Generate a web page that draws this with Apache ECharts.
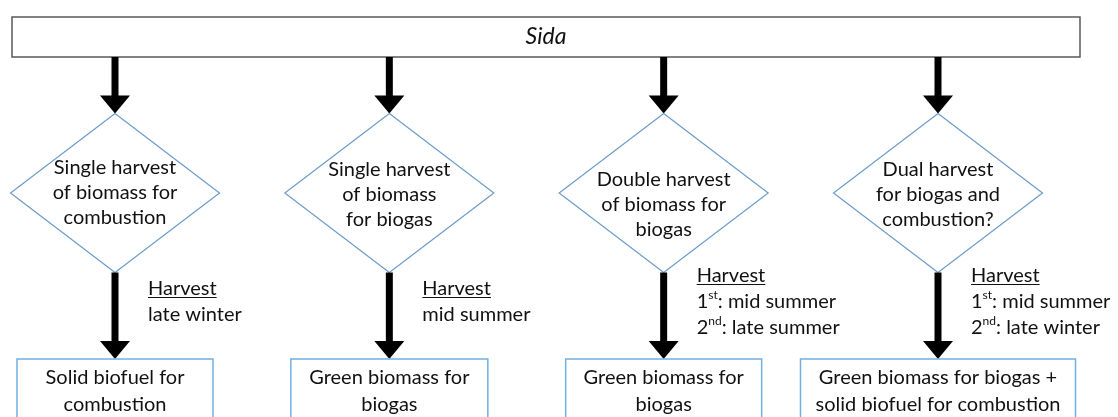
<!DOCTYPE html>
<html lang="en">
<head>
<meta charset="UTF-8">
<script src="https://cdn.jsdelivr.net/npm/echarts@6/dist/echarts.min.js"></script>
<style>
  html, body { margin: 0; padding: 0; background: #fff; }
  #chart { width: 1118px; height: 417px; }
</style>
</head>
<body>
<div id="chart"></div>
<script>
// --- flowchart content ---
var topLabel = 'Sida';
var columns = [0, 1, 2, 3];
var decisions = [
  ['Single harvest', 'of biomass for', 'combustion'],
  ['Single harvest', 'of biomass', 'for biogas'],
  ['Double harvest', 'of biomass for', 'biogas'],
  ['Dual harvest', 'for biogas and', 'combustion?']
];
var harvestTitle = 'Harvest';
// [number, superscript, rest]
var harvests = [
  [['', '', 'late winter']],
  [['', '', 'mid summer']],
  [['1', 'st', ': mid summer'], ['2', 'nd', ': late summer']],
  [['1', 'st', ': mid summer'], ['2', 'nd', ': late winter']]
];
var outputs = [
  ['Solid biofuel for', 'combustion'],
  ['Green biomass for', 'biogas'],
  ['Green biomass for', 'biogas'],
  ['Green biomass for biogas +', 'solid biofuel for combustion']
];

// --- layout (pixels) ---
var FONT = 'Lato, "Open Sans", sans-serif';
var FS = 20;
var TXT = '#111';
var L = {
  boxLeft: 12, boxRight: 1080, boxTop: 17, boxBottom: 57,
  dCy: 193, dHalfW: 104.5, dHalfH: 79.5,
  shaft: 7, headW: 30, headH: 18,
  outTop: 359, outH: 80, outW: [196, 197, 196, 275], outTextY: 391.5,
  noteDx: 33, noteCy: 302, noteLH: 26
};
var textDy = [0, 2, 12, 2];

var measureCtx = document.createElement('canvas').getContext('2d');
measureCtx.font = FS + 'px ' + FONT;
var harvestW = measureCtx.measureText(harvestTitle).width;

function arrow(x, y0, y1) {
  return [
    { type: 'rect', shape: { x: x - L.shaft / 2, y: y0, width: L.shaft, height: y1 - y0 - L.headH + 1 },
      style: { fill: '#000' } },
    { type: 'polygon', shape: { points: [[x - L.headW / 2, y1 - L.headH], [x + L.headW / 2, y1 - L.headH], [x, y1]] },
      style: { fill: '#000' } }
  ];
}

function noteText(lines) {
  var parts = ['{u|' + harvestTitle + '}'];
  lines.forEach(function (l) {
    if (l[1]) parts.push('{n|' + l[0] + '}{s|' + l[1] + '}{n|' + l[2] + '}');
    else parts.push('{n|' + l[2] + '}');
  });
  return parts.join('\n');
}

var chart = echarts.init(document.getElementById('chart'), null, { renderer: 'canvas' });

chart.setOption({
  animation: false,
  grid: { left: 115, right: 180, top: 0, bottom: 0 },
  xAxis: { type: 'value', min: 0, max: 3, show: false },
  yAxis: { type: 'value', min: 0, max: 417, inverse: true, show: false },
  series: [
    {
      type: 'custom',
      data: [[0]],
      renderItem: function (params, api) {
        return {
          type: 'group',
          children: [
            { type: 'rect',
              shape: { x: L.boxLeft, y: L.boxTop, width: L.boxRight - L.boxLeft, height: L.boxBottom - L.boxTop },
              style: { fill: '#fff', stroke: '#5a5a5a', lineWidth: 1.5 } },
            { type: 'text',
              style: { text: topLabel, x: (L.boxLeft + L.boxRight) / 2, y: (L.boxTop + L.boxBottom) / 2,
                align: 'center', verticalAlign: 'middle', fill: TXT,
                font: 'italic 23px ' + FONT } }
          ]
        };
      }
    },
    {
      type: 'custom',
      data: columns.map(function (c) { return [c]; }),
      renderItem: function (params, api) {
        var i = params.dataIndex;
        var cx = api.coord([api.value(0), 0])[0];
        var dTop = L.dCy - L.dHalfH, dBot = L.dCy + L.dHalfH;
        var nLines = harvests[i].length + 1;
        var noteTop = L.noteCy - nLines * L.noteLH / 2;
        var kids = [];
        kids = kids.concat(arrow(cx, L.boxBottom, dTop));
        kids.push({ type: 'polygon',
          shape: { points: [[cx, dTop], [cx + L.dHalfW, L.dCy], [cx, dBot], [cx - L.dHalfW, L.dCy]] },
          style: { fill: '#fff', stroke: '#6b9bc8', lineWidth: 1.2 } });
        kids.push({ type: 'text',
          style: { text: decisions[i].join('\n'), x: cx, y: L.dCy + textDy[i],
            align: 'center', verticalAlign: 'middle', fill: TXT, font: FS + 'px ' + FONT, lineHeight: 25 } });
        kids = kids.concat(arrow(cx, dBot, L.outTop));
        kids.push({ type: 'text',
          style: { text: noteText(harvests[i]), x: cx + L.noteDx, y: L.noteCy,
            align: 'left', verticalAlign: 'middle', fill: TXT, font: FS + 'px ' + FONT,
            rich: {
              u: { fontSize: FS, fontFamily: FONT, lineHeight: L.noteLH, fill: TXT },
              n: { fontSize: FS, fontFamily: FONT, lineHeight: L.noteLH, fill: TXT },
              s: { fontSize: 12, fontFamily: FONT, lineHeight: 15, verticalAlign: 'top', fill: TXT }
            } } });
        var uy = noteTop + L.noteLH / 2 + 8.5;
        kids.push({ type: 'line',
          shape: { x1: cx + L.noteDx, y1: uy, x2: cx + L.noteDx + harvestW, y2: uy },
          style: { stroke: TXT, lineWidth: 1.2 } });
        var w = L.outW[i];
        kids.push({ type: 'rect',
          shape: { x: cx - w / 2, y: L.outTop, width: w, height: L.outH },
          style: { fill: '#fff', stroke: '#72b0e2', lineWidth: 1.5 } });
        kids.push({ type: 'text',
          style: { text: outputs[i].join('\n'), x: cx, y: L.outTextY,
            align: 'center', verticalAlign: 'middle', fill: TXT, font: FS + 'px ' + FONT, lineHeight: 27 } });
        return { type: 'group', children: kids };
      }
    }
  ]
});
</script>
</body>
</html>
